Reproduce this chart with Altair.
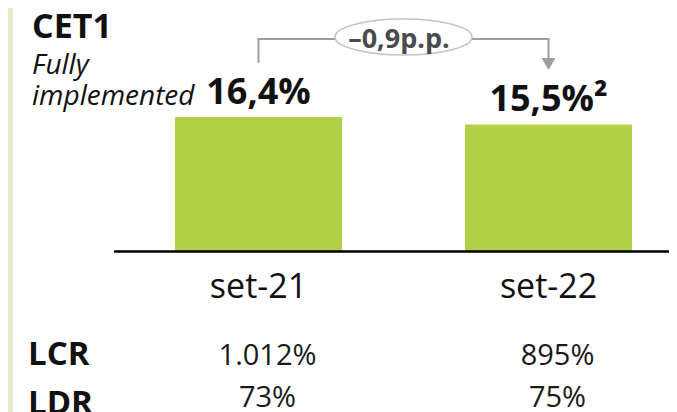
import altair as alt
import pandas as pd

# ---- data ----
categories = ["set-21", "set-22"]
cet1_values = [16.4, 15.5]
cet1_labels = ["16,4%", "15,5%²"]
lcr_labels = ["1.012%", "895%"]
ldr_labels = ["73%", "75%"]
delta_label = "–0,9p.p."
title_main = "CET1"
subtitle_lines = ["Fully", "implemented"]
row_names = ["LCR", "LDR"]

bars_df = pd.DataFrame({"cat": categories, "value": cet1_values, "label": cet1_labels})
lcr_df = pd.DataFrame({"cat": categories, "txt": lcr_labels})
ldr_df = pd.DataFrame({"cat": categories, "txt": ldr_labels})

FONT = "Open Sans"
W, H = 661, 404

xscale = alt.Scale(domain=categories, range=[167, 624], paddingInner=0.42414, paddingOuter=0)
yscale = alt.Scale(domain=[0, 20], range=[243.5, 79.5])
X = alt.X("cat:N", scale=xscale, axis=None, sort=categories)
Y = alt.Y("value:Q", scale=yscale, axis=None)

one = pd.DataFrame({"a": [0]})


def label(text, x, y, **kw):
    return alt.Chart(pd.DataFrame({"t": [text]})).mark_text(
        font=FONT, baseline="alphabetic", align="left", color="#111111", **kw
    ).encode(x=alt.value(x), y=alt.value(y), text="t:N")


stripe = alt.Chart(one).mark_rect(color="#e2ecc2").encode(
    x=alt.value(0), x2=alt.value(5), y=alt.value(0), y2=alt.value(H)
)

bars = alt.Chart(bars_df).mark_bar(color="#b3d148").encode(x=X, y=Y)

baseline = alt.Chart(bars_df).mark_rule(color="#000000", strokeWidth=2).encode(
    x=alt.value(106), x2=alt.value(W), y=alt.value(243.5)
)

value_text = alt.Chart(bars_df).mark_text(
    font=FONT, fontSize=36, fontWeight="bold", color="#111111", baseline="alphabetic", dy=-13
).encode(x=X, y=Y, text="label:N")

cat_text = alt.Chart(bars_df).mark_text(
    font=FONT, fontSize=34, color="#111111", baseline="alphabetic"
).encode(x=X, y=alt.value(290), text="cat:N")

lcr_text = alt.Chart(lcr_df).mark_text(
    font=FONT, fontSize=29, color="#1a1a1a", baseline="alphabetic", dx=9
).encode(x=X, y=alt.value(357), text="txt:N")

ldr_text = alt.Chart(ldr_df).mark_text(
    font=FONT, fontSize=29, color="#1a1a1a", baseline="alphabetic", dx=9
).encode(x=X, y=alt.value(399), text="txt:N")

row1 = label(row_names[0], 20, 357, fontSize=33, fontWeight="bold")
row2 = label(row_names[1], 20, 406, fontSize=33, fontWeight="bold")
title_text = label(title_main, 24, 30, fontSize=34, fontWeight="bold")
sub1 = label(subtitle_lines[0], 24, 66, fontSize=28, fontStyle="italic")
sub2 = label(subtitle_lines[1], 24, 97, fontSize=28, fontStyle="italic")

# ---- annotation connector ----
GRAY = "#9e9e9e"
left_v = alt.Chart(pd.DataFrame({"cat": [categories[0]]})).mark_rule(color=GRAY, strokeWidth=2).encode(
    x=X, y=alt.value(31), y2=alt.value(55)
)
right_v = alt.Chart(pd.DataFrame({"cat": [categories[1]]})).mark_rule(color=GRAY, strokeWidth=2).encode(
    x=X, y=alt.value(31), y2=alt.value(52)
)
left_h = alt.Chart(one).mark_rule(color=GRAY, strokeWidth=2).encode(
    x=alt.value(249.5), x2=alt.value(330), y=alt.value(31)
)
right_h = alt.Chart(one).mark_rule(color=GRAY, strokeWidth=2).encode(
    x=alt.value(460), x2=alt.value(541.5), y=alt.value(31)
)
arrow = alt.Chart(pd.DataFrame({"cat": [categories[1]]})).mark_point(
    shape="M -1 -0.85 L 1 -0.85 L 0 0.85 Z", filled=True, color=GRAY, opacity=1, size=196
).encode(x=X, y=alt.value(56))

ry = 0.2628
k = 0.5523
ell_path = (
    f"M -1 0 C -1 {-k*ry:.4f} {-k:.4f} {-ry:.4f} 0 {-ry:.4f} "
    f"C {k:.4f} {-ry:.4f} 1 {-k*ry:.4f} 1 0 "
    f"C 1 {k*ry:.4f} {k:.4f} {ry:.4f} 0 {ry:.4f} "
    f"C {-k:.4f} {ry:.4f} -1 {k*ry:.4f} -1 0 Z"
)
ellipse = alt.Chart(one).mark_point(
    shape=ell_path, fill="#ffffff", stroke="#c4c4c4", strokeWidth=1.6, opacity=1, size=137 * 137
).encode(x=alt.value(395.5), y=alt.value(29))

delta_text = alt.Chart(pd.DataFrame({"t": [delta_label]})).mark_text(
    font=FONT, fontSize=27, fontWeight="bold", color="#4a4a4a", baseline="alphabetic"
).encode(x=alt.value(391), y=alt.value(39.5), text="t:N")

chart = alt.layer(
    stripe, bars, baseline, value_text, cat_text, lcr_text, ldr_text, row1, row2,
    title_text, sub1, sub2, left_v, right_v, left_h, right_h, arrow, ellipse, delta_text
).properties(
    width=W, height=H, autosize=alt.AutoSizeParams(type="none"), padding=0, background="#ffffff"
).configure_view(stroke=None)

chart.save("out.html", embed_options={"renderer": "svg", "actions": False})
